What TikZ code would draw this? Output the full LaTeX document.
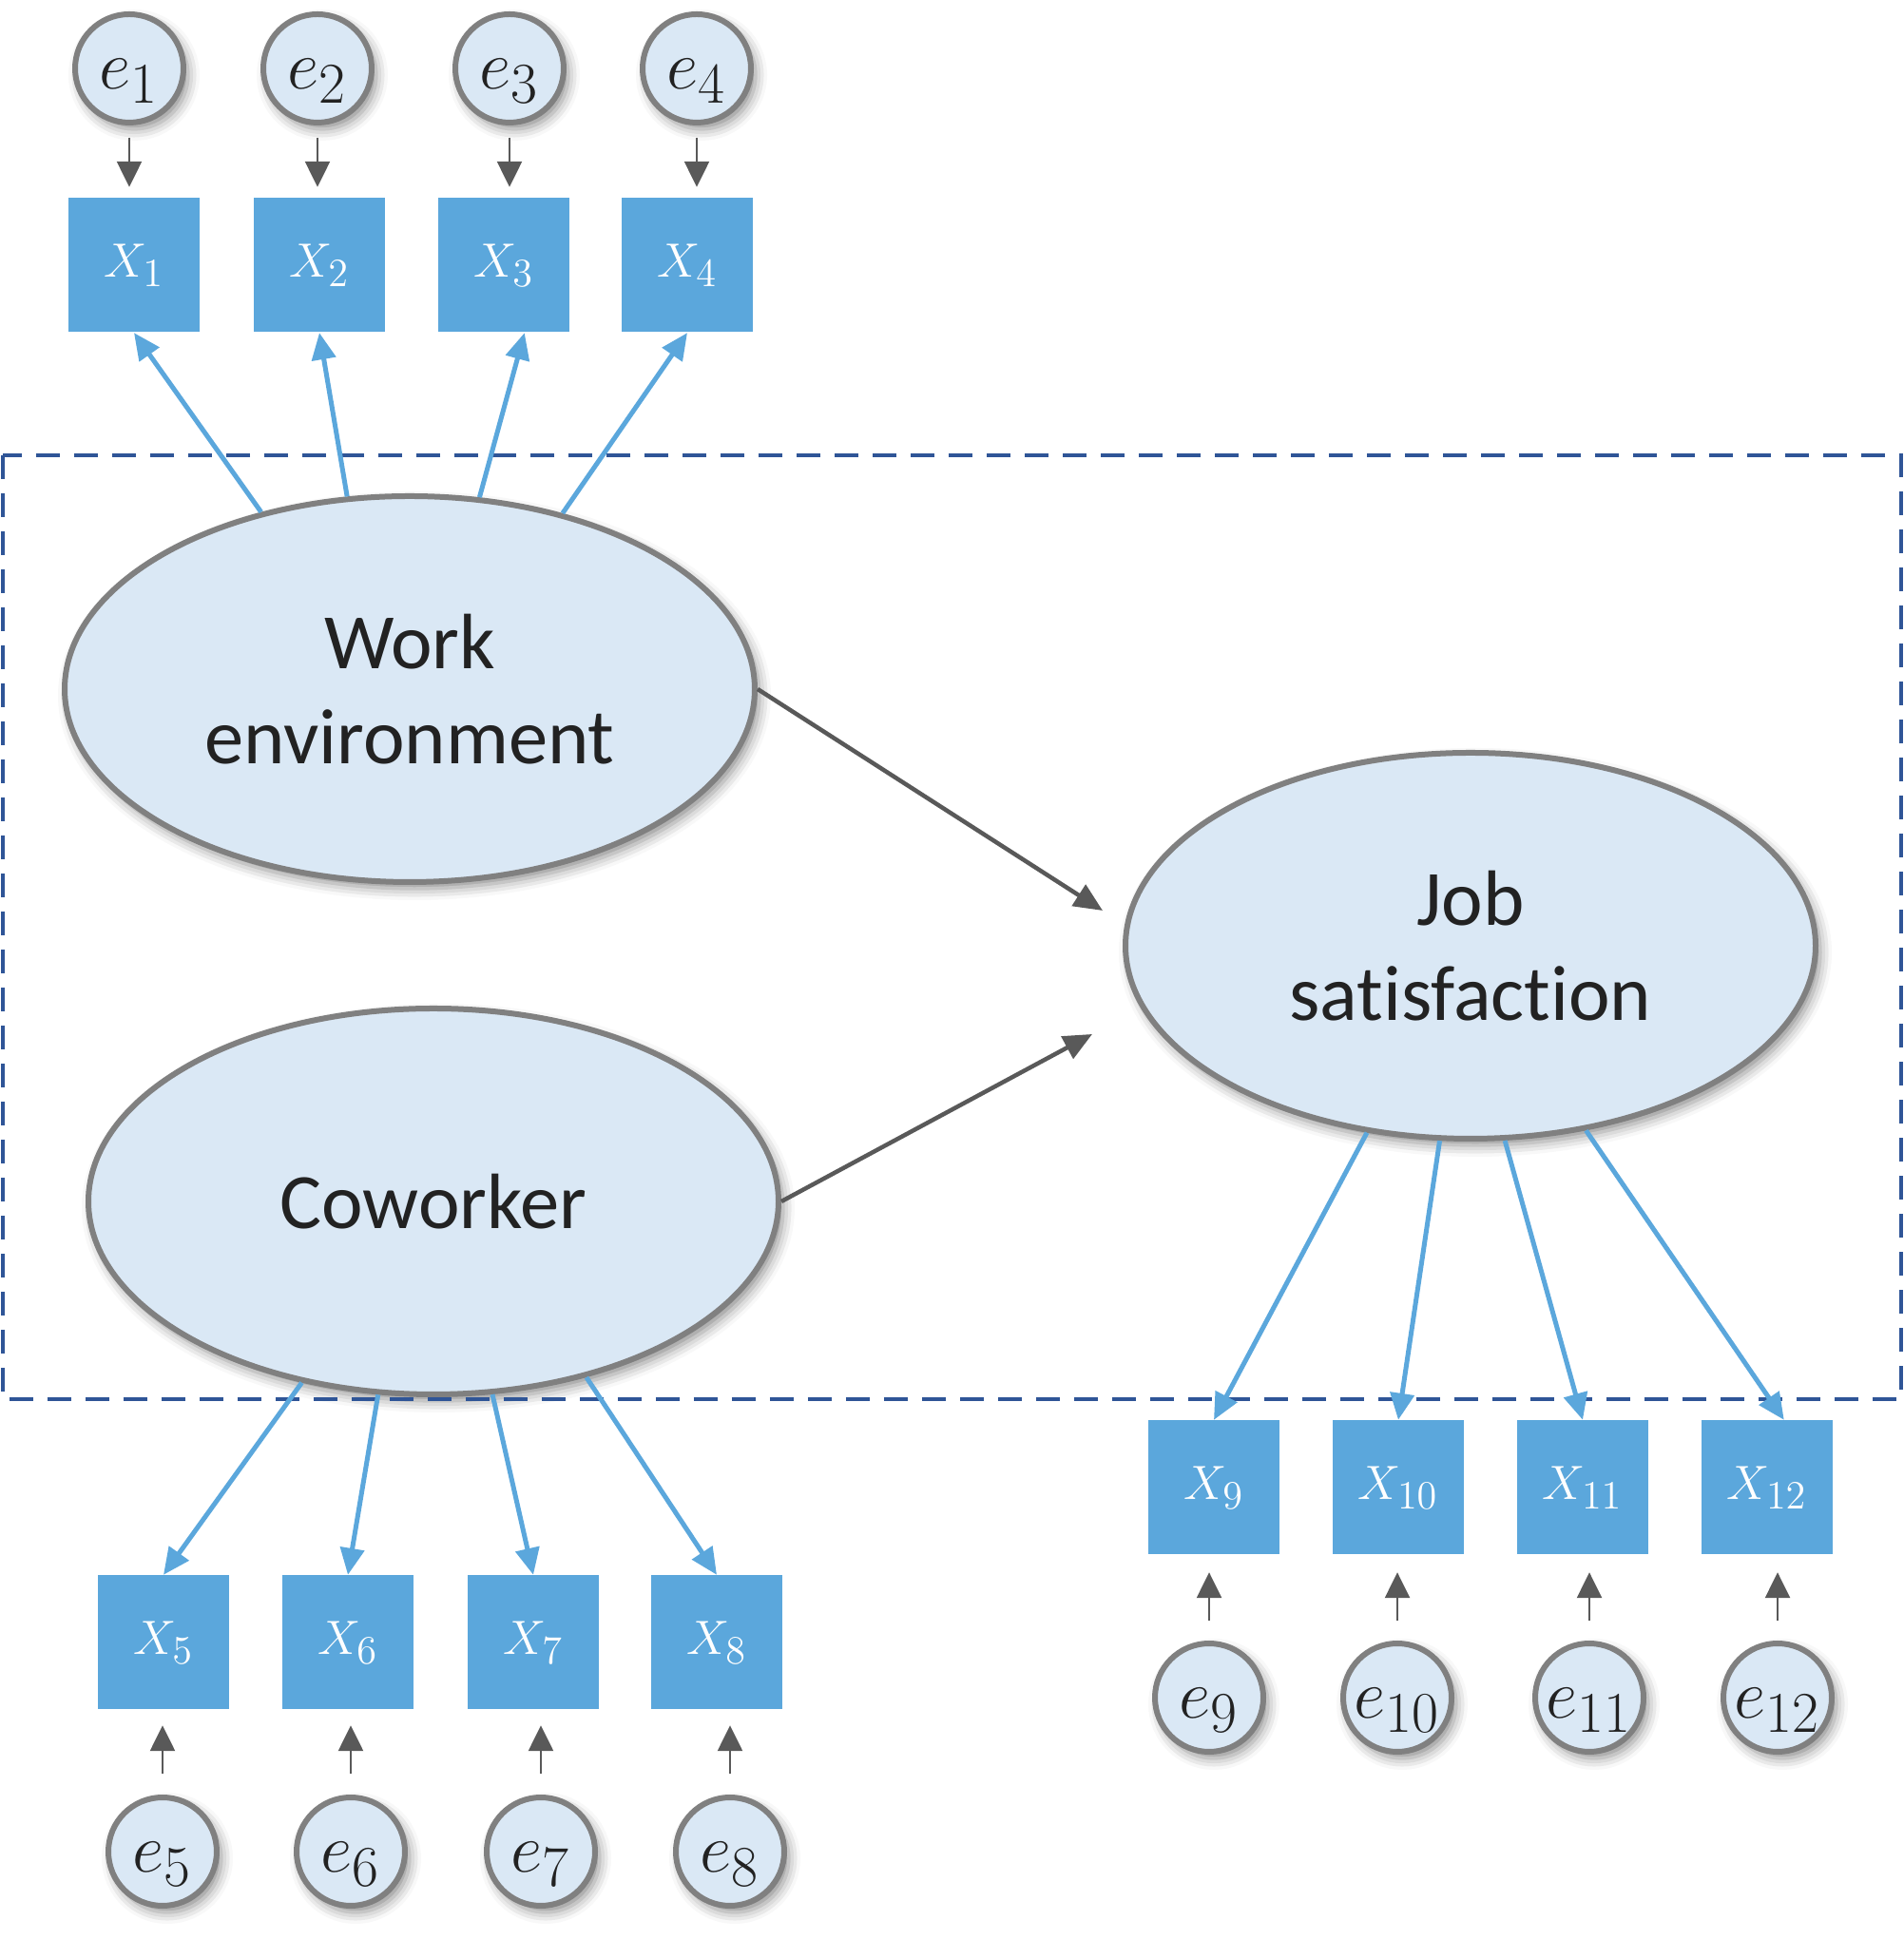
\documentclass[tikz,border=0pt]{standalone}
\usepackage{fontspec}
\setsansfont{Carlito}[Ligatures=NoCommon]
\usetikzlibrary{arrows.meta,shapes.geometric,shadows.blur}
\renewcommand\defaultscriptratio{.8}
\definecolor{boxblue}{HTML}{5BA7DC}
\definecolor{paleblue}{HTML}{DAE8F5}
\definecolor{rimgray}{HTML}{808080}
\definecolor{arrowgray}{HTML}{595959}
\definecolor{frameblue}{HTML}{2F5597}
\definecolor{inkblack}{HTML}{222222}
\begin{document}
\begin{tikzpicture}[
  softshadow/.style={blur shadow={shadow xshift=0.05cm,shadow yshift=-0.07cm,shadow blur radius=0.12cm,shadow opacity=45}},
  latent/.style={ellipse,draw=rimgray,line width=0.06cm,fill=paleblue,minimum width=7.26cm,minimum height=4.06cm,inner sep=0pt,align=center,text=inkblack,font=\sffamily\fontsize{23.5}{28.5}\selectfont,softshadow},
  err/.style={circle,draw=rimgray,line width=0.06cm,fill=paleblue,minimum size=1.14cm,inner sep=0pt,text height=0.44cm,text depth=0cm,text=inkblack,font=\fontsize{20}{20}\selectfont,softshadow},
  obs/.style={rectangle,fill=boxblue,minimum width=1.38cm,minimum height=1.41cm,inner sep=0pt,text=white,font=\fontsize{15}{15}\selectfont},
  load/.style={draw=boxblue,line width=0.05cm,-{Triangle[length=0.28cm,width=0.25cm]}},
  resid/.style={draw=arrowgray,line width=0.025cm,-{Triangle[length=0.27cm,width=0.26cm]}},
  regress/.style={draw=arrowgray,line width=0.045cm,-{Triangle[length=0.3cm,width=0.26cm]}}]
\useasboundingbox (0,0) rectangle (20.02,20.41);
% latent factors
\node[latent] (we) at (4.31,13.16) {Work\\environment};
\node[latent] (cw) at (4.56,7.77) {Coworker};
\node[latent] (js) at (15.47,10.46) {Job\\satisfaction};
% indicators and their errors
\foreach \n/\ex/\xx in {1/1.36/1.41,2/3.34/3.36,3/5.36/5.30,4/7.33/7.23} {
  \node[err] (e\n) at (\ex,19.69) {$e_{\n}$};
  \node[obs] (x\n) at (\xx,17.62) {$X_{\n}$};
  \draw[resid,shorten <=0.13cm,shorten >=0.11cm] (e\n) -- (e\n |- x\n.north);
}
\foreach \n/\ex/\xx in {5/1.71/1.72,6/3.69/3.66,7/5.69/5.61,8/7.68/7.54} {
  \node[err] (e\n) at (\ex,0.93) {$e_{\n}$};
  \node[obs] (x\n) at (\xx,3.13) {$X_{\n}$};
  \draw[resid,shorten <=0.22cm,shorten >=0.16cm] (e\n) -- (e\n |- x\n.south);
}
\foreach \n/\ex/\xx in {9/12.72/12.77,10/14.70/14.71,11/16.72/16.65,12/18.70/18.59} {
  \node[err] (e\n) at (\ex,2.55) {$e_{\n}$};
  \node[obs] (x\n) at (\xx,4.76) {$X_{\n}$};
  \draw[resid,shorten <=0.21cm,shorten >=0.18cm] (e\n) -- (e\n |- x\n.south);
}
% measurement model frame
\draw[frameblue,line width=0.035cm,dash pattern=on 0.25cm off 0.15cm] (0.03,15.62) rectangle (20.00,5.69);
% loadings
\foreach \a/\n/\t in {130/1/south,108/2/south,70/3/-73,49/4/south} \draw[load] (we.\a) -- (x\n.\t);
\foreach \a/\n in {-126/5,-106/6,-73/7,-49/8} \draw[load] (cw.\a) -- (x\n.north);
\foreach \a/\n/\t in {-119/9/north,-99/10/north,-80/11/north,-58/12/76} \draw[load] (js.\a) -- (x\n.\t);
% structural paths
\coordinate (h1) at (11.60,10.83);
\coordinate (h2) at (11.49,9.53);
\draw[regress] (we.east) -- (h1);
\draw[regress] (cw.east) -- (h2);
\end{tikzpicture}
\end{document}
